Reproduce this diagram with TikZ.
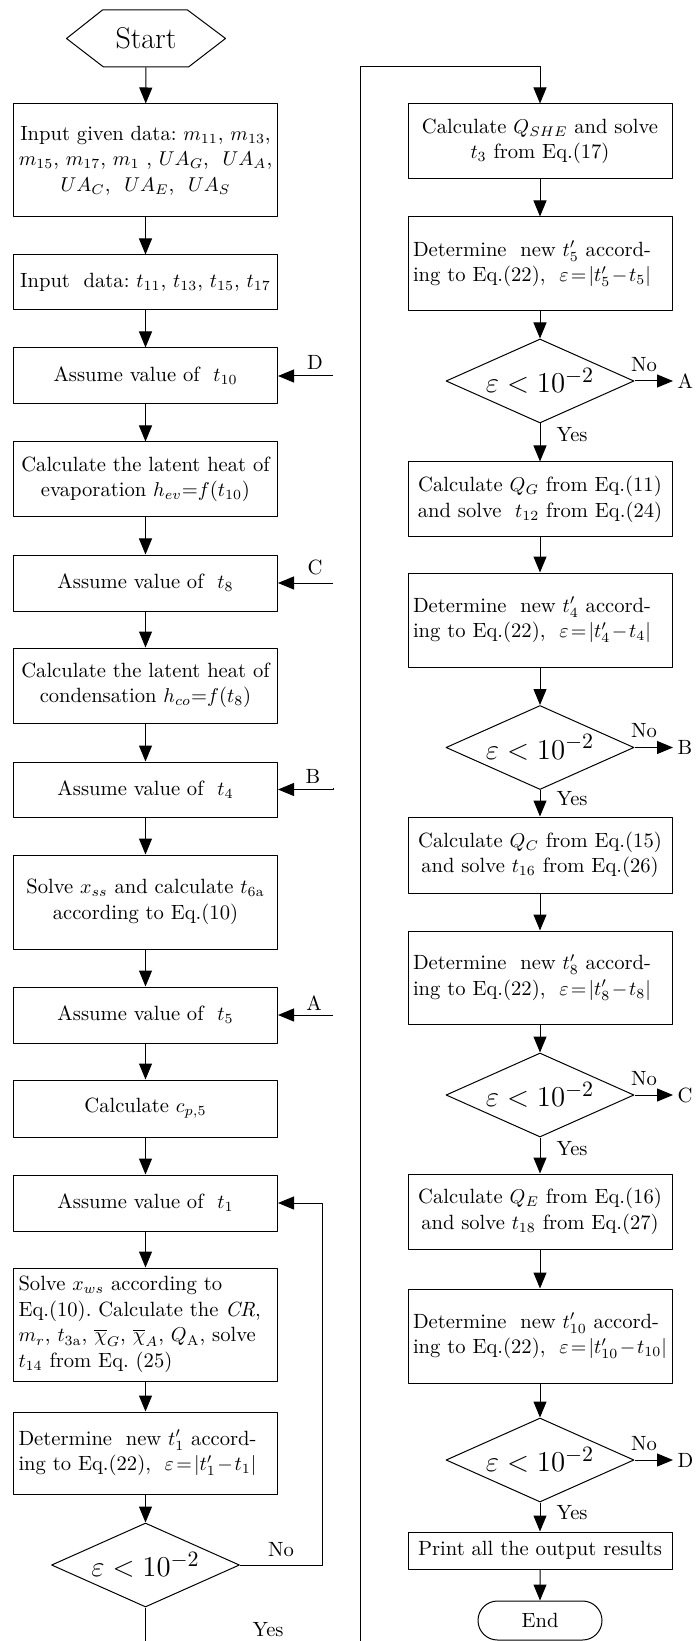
\documentclass[tikz,border=0pt]{standalone}
\usetikzlibrary{arrows.meta,shapes.geometric,shapes.misc}
\begin{document}
\frenchspacing
\begin{tikzpicture}[x=0.5pt,y=-0.5pt,>={Triangle[length=8pt,width=6.5pt]},line join=round,line width=0.5pt,
	font=\fontsize{10.3}{12.8}\selectfont,
	box/.style={draw,minimum width=132pt,inner sep=2pt,align=center},
	lbox/.style={draw,text width=127pt,inner xsep=2.5pt,inner ysep=2pt,align=left,
		execute at begin node={\thickmuskip=2mu\medmuskip=1.5mu}},
	dec/.style={draw,diamond,aspect=2.2,minimum width=94pt,minimum height=42pt,inner sep=0pt,font=\fontsize{15}{18}\selectfont},
	bh/.style={minimum height=#1*0.5pt}]
			\useasboundingbox (0,0) rectangle (699,1641);
			\node[minimum width=79pt,minimum height=28.5pt,inner sep=0pt,font=\fontsize{15}{18}\selectfont] (start) at (146,38.5) {Start};
			\draw (start.west)--++(36,-28.5)--++(85,0)--(start.east)--++(-37,28.5)--++(-85,0)--cycle;
			
			\node[box,bh=113] (in1) at (145.5,160.5) {Input given data: $m_{11}$, $m_{13}$,\\$m_{15}$, $m_{17}$, $m_{1}$ , $UA_{G}$,\ \ $UA_{A}$,\\$UA_{C}$,\ \ $UA_{E}$,\ \ $UA_{S}$};
			\node[box,bh=55] (in2) at (145.5,282.5) {Input\ \ data: $t_{11}$, $t_{13}$, $t_{15}$, $t_{17}$};
			\node[box,bh=56] (ten) at (145.5,376) {Assume value of\ \ $t_{10}$};
			\node[box,bh=75] (hev) at (145.5,479.5) {Calculate the latent heat of\\evaporation $h_{ev}$=$f$($t_{10}$)};
			\node[box,bh=56] (eight) at (145.5,583) {Assume value of\ \ $t_{8}$};
			\node[box,bh=75] (hco) at (145.5,685.5) {Calculate the latent heat of\\condensation $h_{co}$=$f$($t_{8}$)};
			\node[box,bh=55] (four) at (145.5,789.5) {Assume value of\ \ $t_{4}$};
			\node[box,bh=94] (xss) at (145.5,902) {Solve $x_{ss}$ and calculate $t_{6\mathrm{a}}$\\according to Eq.(10)};
			\node[box,bh=56] (five) at (145.5,1015) {Assume value of\ \ $t_{5}$};
			\node[box,bh=57] (cp) at (145.5,1108.5) {Calculate $c_{p,5}$};
			\node[box,bh=56] (one) at (145.5,1203) {Assume value of\ \ $t_{1}$};
			\node[lbox,bh=113] (xws) at (145.5,1324.5) {Solve $x_{ws}$ according to\\Eq.(10). Calculate the \textit{CR},\\\mbox{$m_{r}$, $t_{3\mathrm{a}}$, $\overline{\chi}_{G}$, $\overline{\chi}_{A}$, $Q_{\mathrm{A}}$, solve}\\$t_{14}$ from Eq. (25)};
			\node[lbox,bh=82] (newone) at (145.5,1453) {Determine\ \ new $t_{1}'$ accord-\\ing to Eq.(22),\ \ $\varepsilon=\left|t_{1}'-t_{1}\right|$};
			\node[dec] (epsone) at (145.5,1565) {$\varepsilon<10^{-2}$};
			
			\node[box,bh=75] (qshe) at (540,141.5) {Calculate $Q_{SHE}$ and solve\\$t_{3}$ from Eq.(17)};
			\node[lbox,bh=94] (newfive) at (540,264) {Determine\ \ new $t_{5}'$ accord-\\ing to Eq.(22),\ \ $\varepsilon=\left|t_{5}'-t_{5}\right|$};
			\node[dec] (epsfive) at (540,381) {$\varepsilon<10^{-2}$};
			\node[box,bh=75] (qg) at (540,499.5) {Calculate $Q_{G}$ from Eq.(11)\\and solve\ \ $t_{12}$ from Eq.(24)};
			\node[lbox,bh=94] (newfour) at (540,620) {Determine\ \ new $t_{4}'$ accord-\\ing to Eq.(22),\ \ $\varepsilon=\left|t_{4}'-t_{4}\right|$};
			\node[dec] (epsfour) at (540,747.5) {$\varepsilon<10^{-2}$};
			\node[box,bh=76] (qc) at (540,855) {Calculate $Q_{C}$ from Eq.(15)\\and solve $t_{16}$ from Eq.(26)};
			\node[lbox,bh=93] (neweight) at (540,977.5) {Determine\ \ new $t_{8}'$ accord-\\ing to Eq.(22),\ \ $\varepsilon=\left|t_{8}'-t_{8}\right|$};
			\node[dec] (epseight) at (540,1095) {$\varepsilon<10^{-2}$};
			\node[box,bh=75] (qe) at (540,1211.5) {Calculate $Q_{E}$ from Eq.(16)\\and solve $t_{18}$ from Eq.(27)};
			\node[lbox,bh=94] (newten) at (540,1336) {Determine\ \ new $t_{10}'$ accord-\\ing to Eq.(22),\ \ $\varepsilon=\left|t_{10}'-t_{10}\right|$};
			\node[dec] (epsten) at (540,1460) {$\varepsilon<10^{-2}$};
			\node[box,bh=37] (print) at (540,1550.5) {Print all the output results};
			\node[draw,rounded rectangle,minimum width=62pt,minimum height=19.5pt,inner sep=0pt] (end) at (540,1620.5) {End};
			
			\draw[->] (start)--(in1);
			\draw[->] (in1)--(in2);
			\draw[->] (in2)--(ten);
			\draw[->] (ten)--(hev);
			\draw[->] (hev)--(eight);
			\draw[->] (eight)--(hco);
			\draw[->] (hco)--(four);
			\draw[->] (four)--(xss);
			\draw[->] (xss)--(five);
			\draw[->] (five)--(cp);
			\draw[->] (cp)--(one);
			\draw[->] (one)--(xws);
			\draw[->] (xws)--(newone);
			\draw[->] (newone)--(epsone);
			
			\coordinate (loop) at (322,1203);
			\draw[->] (epsone.east)-|(loop)--(one.east);
			\node (noone) at (281,1550) {No};
			\coordinate (down) at (145.5,1641);
			\draw (epsone.south)--(down);
			\node (yesone) at (268,1630) {Yes};
			
			\coordinate (inD) at (333,376);
			\coordinate (inC) at (333,583);
			\coordinate (inB) at (333,788);
			\coordinate (inA) at (333,1015);
			\draw[->] (inD)--(ten.east);
			\draw[->] (inC)--(eight.east);
			\draw[->] (inB)--(four.east-|inB)--(four.east);
			\draw[->] (inA)--(five.east);
			\node (labD) at (315,362) {D};
			\node (labC) at (315,567) {C};
			\node (labB) at (313,776) {B};
			\node (labA) at (314,1003) {A};
			
			\coordinate (up) at (360,1641);
			\coordinate (top) at (360,67);
			\draw[->] (up)--(top)-|(qshe.north);
			\draw[->] (qshe)--(newfive);
			\draw[->] (newfive)--(epsfive);
			\draw[->] (epsfive)--(qg);
			\draw[->] (qg)--(newfour);
			\draw[->] (newfour)--(epsfour);
			\draw[->] (epsfour)--(qc);
			\draw[->] (qc)--(neweight);
			\draw[->] (neweight)--(epseight);
			\draw[->] (epseight)--(qe);
			\draw[->] (qe)--(newten);
			\draw[->] (newten)--(epsten);
			\draw[->] (epsten)--(print);
			\draw[->] (print)--(end);
			
			\coordinate (outA) at (673,381);
			\coordinate (outB) at (673,747.5);
			\coordinate (outC) at (673,1095);
			\coordinate (outD) at (673,1460);
			\draw[->] (epsfive.east)--(outA) node[right,inner sep=2pt]{A};
			\draw[->] (epsfour.east)--(outB) node[right,inner sep=2pt]{B};
			\draw[->] (epseight.east)--(outC) node[right,inner sep=2pt]{C};
			\draw[->] (epsten.east)--(outD) node[right,inner sep=2pt]{D};
			\node (nofive) at (644,365) {No};
			\node (nofour) at (644,731) {No};
			\node (noeight) at (644,1079) {No};
			\node (noten) at (644,1444) {No};
			\node (yesfive) at (572,435) {Yes};
			\node (yesfour) at (572,799) {Yes};
			\node (yeseight) at (572,1149) {Yes};
			\node (yesten) at (572,1513) {Yes};
\end{tikzpicture}
\end{document}
